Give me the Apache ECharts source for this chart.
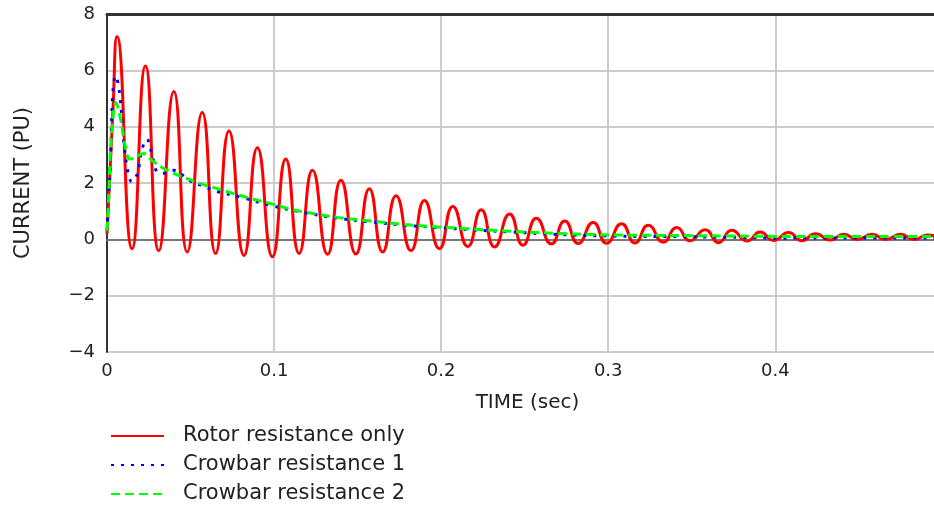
<!DOCTYPE html>
<html>
<head>
<meta charset="utf-8">
<script src="https://cdn.jsdelivr.net/npm/echarts@6/dist/echarts.min.js"></script>
<style>
  html, body { margin: 0; padding: 0; background: #fff; }
  #chart { width: 934px; height: 506px; }
</style>
</head>
<body>
<div id="chart"></div>
<script>
// Rotor resistance only: start, then alternating peaks / troughs
const rotorTime = [
  0, 0.0035, 0.006, 0.015, 0.023, 0.031, 0.040, 0.048, 0.057, 0.065, 0.073, 0.082,
  0.090, 0.099, 0.107, 0.115, 0.123, 0.132, 0.140, 0.149, 0.157, 0.165, 0.173, 0.182,
  0.190, 0.199, 0.207, 0.216, 0.224, 0.232, 0.241, 0.249, 0.257, 0.266, 0.274, 0.282,
  0.291, 0.299, 0.308, 0.316, 0.324, 0.333, 0.341, 0.349, 0.358, 0.366, 0.374, 0.383,
  0.391, 0.399, 0.408, 0.416, 0.424, 0.433, 0.441, 0.449, 0.458, 0.466, 0.475, 0.483,
  0.491, 0.5
];
const rotorCurrent = [
  0.2, 4.5, 7.2, -0.33, 6.15, -0.4, 5.25, -0.45, 4.5, -0.5, 3.85, -0.57,
  3.25, -0.62, 2.85, -0.5, 2.45, -0.53, 2.1, -0.52, 1.8, -0.45, 1.55, -0.4,
  1.38, -0.33, 1.17, -0.25, 1.05, -0.27, 0.9, -0.21, 0.75, -0.16, 0.65, -0.15,
  0.6, -0.14, 0.55, -0.13, 0.5, -0.1, 0.42, -0.05, 0.34, -0.12, 0.32, -0.06,
  0.26, -0.04, 0.24, -0.05, 0.2, -0.02, 0.18, -0.01, 0.18, -0.01, 0.18, -0.01,
  0.15, 0.05
];

// Crowbar resistance 1
const crowbar1Time = [
  0, 0.001, 0.002, 0.0035, 0.0052, 0.0075, 0.010, 0.0125, 0.0148, 0.018, 0.021, 0.0238,
  0.027, 0.030, 0.034, 0.040, 0.049, 0.057, 0.066, 0.080, 0.098, 0.118, 0.138, 0.158,
  0.178, 0.198, 0.22, 0.24, 0.26, 0.28, 0.30, 0.32, 0.34, 0.36, 0.38, 0.40,
  0.42, 0.44, 0.46, 0.48, 0.5
];
const crowbar1Current = [
  0.3, 1.5, 2.7, 5.2, 5.8, 5.2, 3.5, 2.4, 2.05, 2.3, 3.2, 3.55,
  3.0, 2.4, 2.35, 2.45, 2.1, 1.9, 1.7, 1.5, 1.2, 0.95, 0.75, 0.62,
  0.5, 0.42, 0.33, 0.27, 0.2, 0.15, 0.12, 0.1, 0.1, 0.08, 0.07, 0.04,
  0.05, 0.05, 0.05, 0.05, 0.05
];

// Crowbar resistance 2
const crowbar2Time = [
  0, 0.001, 0.0025, 0.0054, 0.008, 0.011, 0.0138, 0.018, 0.0218, 0.027, 0.036, 0.046,
  0.056, 0.066, 0.076, 0.086, 0.096, 0.108, 0.118, 0.138, 0.158, 0.178, 0.198, 0.215,
  0.231, 0.251, 0.271, 0.291, 0.311, 0.331, 0.351, 0.371, 0.391, 0.411, 0.431, 0.451,
  0.471, 0.5
];
const crowbar2Current = [
  0.3, 1.5, 3.5, 4.85, 4.3, 3.3, 2.85, 2.95, 3.05, 2.8, 2.45, 2.2,
  1.98, 1.8, 1.62, 1.45, 1.3, 1.1, 0.97, 0.78, 0.65, 0.53, 0.44, 0.38,
  0.32, 0.26, 0.21, 0.17, 0.15, 0.14, 0.13, 0.12, 0.11, 0.1, 0.1, 0.1,
  0.1, 0.1
];

const seriesNames = ["Rotor resistance only", "Crowbar resistance 1", "Crowbar resistance 2"];

function pairs(xs, ys) {
  return xs.map((x, i) => [x, ys[i]]);
}

const chart = echarts.init(document.getElementById("chart"), null, { renderer: "canvas" });

const font = "DejaVu Sans, Verdana, sans-serif";
const xMax = 0.495; // the plot is cut off just before 0.5

chart.setOption({
  animation: false,
  backgroundColor: "#ffffff",
  grid: {
    left: 107,
    right: 0,
    top: 14,
    bottom: 154
  },
  legend: {
    orient: "vertical",
    left: 105,
    top: 420,
    height: 86,
    itemWidth: 53,
    itemHeight: 12,
    itemGap: 7,
    itemStyle: { opacity: 0 },
    textStyle: {
      fontFamily: font,
      fontSize: 21,
      lineHeight: 22,
      color: "#222",
      padding: [0, 0, 0, 14]
    },
    data: seriesNames
  },
  xAxis: [
    {
      type: "value",
      min: 0,
      max: xMax,
      interval: 0.1,
      name: "TIME (sec)",
      nameLocation: "middle",
      nameGap: 41,
      nameTextStyle: { fontFamily: font, fontSize: 20, color: "#222", padding: [0, 0, 0, 14] },
      axisLine: { lineStyle: { color: "#777", width: 2 } },
      axisTick: { show: false },
      axisLabel: { fontFamily: font, fontSize: 18, color: "#222", margin: 10, showMaxLabel: false },
      splitLine: { showMaxLine: false, lineStyle: { color: "#ccc", width: 2 } }
    },
    {
      type: "value",
      position: "top",
      min: 0,
      max: xMax,
      interval: 0.1,
      axisLine: { show: true, lineStyle: { color: "#333", width: 3 } },
      axisTick: { show: false },
      axisLabel: { show: false },
      splitLine: { show: false }
    }
  ],
  yAxis: {
    type: "value",
    min: -4,
    max: 8,
    interval: 2,
    name: "CURRENT (PU)",
    nameLocation: "middle",
    nameGap: 73,
    nameTextStyle: { fontFamily: font, fontSize: 21, color: "#222" },
    axisLine: { show: true, lineStyle: { color: "#333", width: 2 } },
    axisTick: { show: false },
    axisLabel: {
      fontFamily: font,
      fontSize: 18,
      color: "#222",
      margin: 12,
      formatter: v => (v < 0 ? "\u2212" + Math.abs(v) : String(v))
    },
    splitLine: { lineStyle: { color: "#ccc", width: 2 } }
  },
  series: [
    {
      name: seriesNames[0],
      type: "line",
      data: pairs(rotorTime, rotorCurrent),
      showSymbol: false,
      symbol: "none",
      smooth: 0.55,
      color: "#ff0000",
      lineStyle: { color: "#ff0000", width: 3 }
    },
    {
      name: seriesNames[1],
      type: "line",
      data: pairs(crowbar1Time, crowbar1Current),
      showSymbol: false,
      symbol: "none",
      smooth: 0.4,
      color: "#0000ff",
      lineStyle: { color: "#0000ff", width: 3, type: [3, 7] }
    },
    {
      name: seriesNames[2],
      type: "line",
      data: pairs(crowbar2Time, crowbar2Current),
      showSymbol: false,
      symbol: "none",
      smooth: 0.4,
      color: "#00ff00",
      lineStyle: { color: "#00ff00", width: 3, type: [9, 5] }
    }
  ]
});
</script>
</body>
</html>
